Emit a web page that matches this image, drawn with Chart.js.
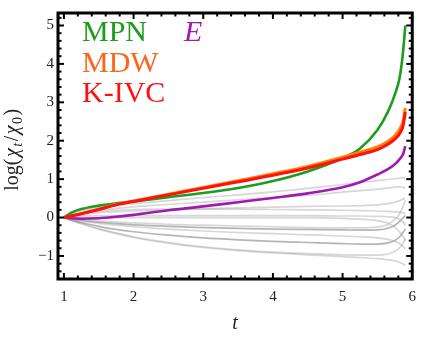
<!DOCTYPE html>
<html>
<head>
<meta charset="utf-8">
<script src="https://cdn.jsdelivr.net/npm/chart.js@4.4.1/dist/chart.umd.min.js"></script>
<style>
    html, body { margin: 0; padding: 0; background: #fff; }
    #wrap { width: 425px; height: 340px; }
</style>
</head>
<body>
<div id="wrap"><canvas id="chiChart" width="425" height="340"></canvas></div>
<script>
// time grid shared by every curve
const tValues = [1, 1.1, 1.25, 1.5, 1.75, 2, 2.5, 3, 3.5, 4, 4.5, 5, 5.25, 5.5, 5.65, 5.75, 5.82, 5.87, 5.9];

// log(chi_t / chi_0) for the highlighted states
const kivcValues = [0, 0.04, 0.1, 0.21, 0.33, 0.42, 0.59, 0.76, 0.93, 1.1, 1.29, 1.52, 1.64, 1.77, 1.91, 2.04, 2.19, 2.4, 2.75];
const mdwValues = [0, 0.04, 0.1, 0.22, 0.34, 0.43, 0.61, 0.78, 0.96, 1.14, 1.33, 1.57, 1.7, 1.84, 1.98, 2.13, 2.3, 2.52, 2.85];
const mpnValues = [0, 0.12, 0.22, 0.31, 0.37, 0.42, 0.53, 0.64, 0.77, 0.95, 1.2, 1.55, 1.8, 2.28, 2.75, 3.2, 3.65, 4.35, 5.0];
const eValues = [0, -0.02, -0.03, -0.02, 0.02, 0.07, 0.19, 0.29, 0.4, 0.51, 0.63, 0.79, 0.92, 1.12, 1.26, 1.39, 1.52, 1.66, 1.86];

// the other (gray) states
const grayCurves = [
    [0, 0.1, 0.18, 0.26, 0.32, 0.36, 0.44, 0.52, 0.59, 0.67, 0.76, 0.86, 0.91, 0.96, 0.99, 1.01, 1.03, 1.04, 1.02],
    [0, 0.07, 0.13, 0.19, 0.24, 0.28, 0.34, 0.4, 0.46, 0.52, 0.58, 0.66, 0.7, 0.74, 0.77, 0.79, 0.8, 0.79, 0.76],
    [0, 0.06, 0.11, 0.16, 0.19, 0.21, 0.22, 0.22, 0.22, 0.21, 0.2, 0.19, 0.18, 0.17, 0.16, 0.15, 0.14, 0.12, 0.1],
    [0, 0.05, 0.09, 0.13, 0.15, 0.17, 0.2, 0.23, 0.25, 0.27, 0.29, 0.3, 0.31, 0.33, 0.36, 0.4, 0.44, 0.48, 0.5],
    [0, 0.02, 0.04, 0.05, 0.05, 0.05, 0.05, 0.05, 0.05, 0.05, 0.05, 0.04, 0.04, 0.03, 0.02, 0, -0.05, -0.12, -0.2],
    [0, 0, 0, 0, 0, 0, 0, 0, 0, 0, 0, -0.02, -0.04, -0.08, -0.15, -0.25, -0.38, -0.5, -0.6],
    [0, -0.03, -0.05, -0.09, -0.12, -0.14, -0.18, -0.2, -0.22, -0.24, -0.26, -0.27, -0.27, -0.25, -0.18, -0.05, 0.1, 0.3, 0.45],
    [0, -0.03, -0.07, -0.12, -0.16, -0.19, -0.23, -0.26, -0.28, -0.3, -0.31, -0.32, -0.33, -0.32, -0.28, -0.2, -0.1, 0, 0.05],
    [0, -0.04, -0.09, -0.15, -0.2, -0.24, -0.3, -0.35, -0.39, -0.42, -0.45, -0.48, -0.5, -0.53, -0.57, -0.62, -0.68, -0.75, -0.82],
    [0, -0.06, -0.13, -0.23, -0.31, -0.37, -0.46, -0.53, -0.58, -0.62, -0.65, -0.68, -0.69, -0.69, -0.66, -0.6, -0.5, -0.38, -0.3],
    [0, -0.07, -0.15, -0.29, -0.4, -0.5, -0.65, -0.76, -0.84, -0.9, -0.94, -0.97, -0.98, -0.98, -0.95, -0.88, -0.78, -0.66, -0.55],
    [0, -0.07, -0.16, -0.3, -0.42, -0.52, -0.67, -0.78, -0.86, -0.92, -0.97, -1.02, -1.04, -1.07, -1.1, -1.13, -1.17, -1.21, -1.25],
];
const darkGrayIndexes = [7, 9];

const xTicks = [1, 2, 3, 4, 5, 6];
const yTicks = [-1, 0, 1, 2, 3, 4, 5];

const legendLabels = ['MPN', 'MDW', 'K-IVC'];
const legendColors = ['#1c9e1c', '#ff6418', '#ff1111'];

const serif = '"Liberation Serif", "DejaVu Serif", serif';

function points(values) {
    return values.map((v, i) => ({ x: tValues[i], y: v }));
}

function curve(values, color, width) {
    return {
        data: points(values),
        borderColor: color,
        borderWidth: width,
        pointRadius: 0,
        fill: false,
        cubicInterpolationMode: 'monotone',
    };
}

// dataset 0 is drawn on top in Chart.js
const datasets = [
    curve(kivcValues, '#ff1111', 3),
    curve(mdwValues, '#ff8000', 3),
    curve(mpnValues, '#1c9e1c', 2.6),
    curve(eValues, '#a01ab0', 2.6),
];
grayCurves.forEach((values, i) => {
    const color = darkGrayIndexes.includes(i) ? 'rgba(120,120,120,0.55)' : 'rgba(175,175,175,0.5)';
    datasets.push(curve(values, color, 1.7));
});

const framePlugin = {
    id: 'frame',
    afterDatasetsDraw(chart) {
        const { ctx, chartArea: a, scales } = chart;
        ctx.save();
        ctx.strokeStyle = '#000';
        ctx.lineWidth = 2;
        const drawTick = (x1, y1, x2, y2) => {
            ctx.beginPath();
            ctx.moveTo(x1, y1);
            ctx.lineTo(x2, y2);
            ctx.stroke();
        };
        for (let k = 10; k <= 60; k += 2) {
            const px = scales.x.getPixelForValue(k / 10);
            if (px < a.left + 1 || px > a.right - 1) continue;
            const len = k % 10 === 0 ? 6 : 3.5;
            drawTick(px, a.bottom, px, a.bottom - len);
            drawTick(px, a.top, px, a.top + len);
        }
        for (let k = -16; k <= 54; k += 2) {
            const py = scales.y.getPixelForValue(k / 10);
            if (py < a.top + 1 || py > a.bottom - 1) continue;
            const len = k % 10 === 0 ? 6 : 3.5;
            drawTick(a.left, py, a.left + len, py);
            drawTick(a.right, py, a.right - len, py);
        }
        ctx.lineWidth = 3;
        ctx.strokeRect(a.left, a.top, a.right - a.left, a.bottom - a.top);
        ctx.restore();
    },
    afterDraw(chart) {
        const { ctx, chartArea: a } = chart;
        ctx.save();
        // in-plot labels
        ctx.font = '30px ' + serif;
        ctx.textBaseline = 'alphabetic';
        ctx.textAlign = 'left';
        const baselines = [41, 72, 102];
        legendLabels.forEach((label, i) => {
            ctx.fillStyle = legendColors[i];
            ctx.fillText(label, 82, baselines[i]);
        });
        ctx.fillStyle = '#a01ab0';
        ctx.font = 'italic 30px ' + serif;
        ctx.fillText('E', 184, 41);

        // y axis title log(chi_t/chi_0)
        const parts = [
            { text: 'log(', font: '20px ' + serif, dy: 0 },
            { text: 'χ', font: 'italic 20px ' + serif, dy: 0 },
            { text: 't', font: 'italic 14px ' + serif, dy: 4 },
            { text: '/', font: '20px ' + serif, dy: 0 },
            { text: 'χ', font: 'italic 20px ' + serif, dy: 0 },
            { text: '0', font: '14px ' + serif, dy: 4 },
            { text: ')', font: '20px ' + serif, dy: 0 },
        ];
        let total = 0;
        parts.forEach((p) => {
            ctx.font = p.font;
            p.w = ctx.measureText(p.text).width + 1.5;
            total += p.w;
        });
        const cy = (a.top + a.bottom) / 2 + 3;
        ctx.translate(18, cy);
        ctx.rotate(-Math.PI / 2);
        ctx.fillStyle = '#222';
        let x = -total / 2;
        parts.forEach((p) => {
            ctx.font = p.font;
            ctx.fillText(p.text, x, p.dy);
            x += p.w;
        });
        ctx.restore();
    },
};

new Chart(document.getElementById('chiChart'), {
    type: 'line',
    data: { datasets },
    options: {
        responsive: false,
        animation: false,
        events: [],
        layout: { padding: { left: 0, right: 6, top: 2, bottom: 0 } },
        plugins: {
            legend: { display: false },
            tooltip: { enabled: false },
        },
        scales: {
            x: {
                type: 'linear',
                min: 0.915,
                max: 6.0,
                afterFit: (s) => { s.height = 61; },
                afterBuildTicks: (s) => { s.ticks = xTicks.map((v) => ({ value: v })); },
                grid: { display: false, drawTicks: false },
                border: { display: false },
                ticks: {
                    padding: 9,
                    color: '#222',
                    font: { family: serif, size: 15 },
                    callback: (v) => String(v),
                },
                title: {
                    display: true,
                    text: 't',
                    color: '#222',
                    font: { family: serif, size: 20, style: 'italic' },
                },
            },
            y: {
                type: 'linear',
                min: -1.6,
                max: 5.325,
                afterFit: (s) => { s.width = 58; },
                afterBuildTicks: (s) => { s.ticks = yTicks.map((v) => ({ value: v })); },
                grid: { display: false, drawTicks: false },
                border: { display: false },
                ticks: {
                    padding: 4,
                    color: '#222',
                    font: { family: serif, size: 15 },
                    callback: (v) => (v < 0 ? '\u2212' + Math.abs(v) : String(v)),
                },
            },
        },
    },
    plugins: [framePlugin],
});
</script>
</body>
</html>
